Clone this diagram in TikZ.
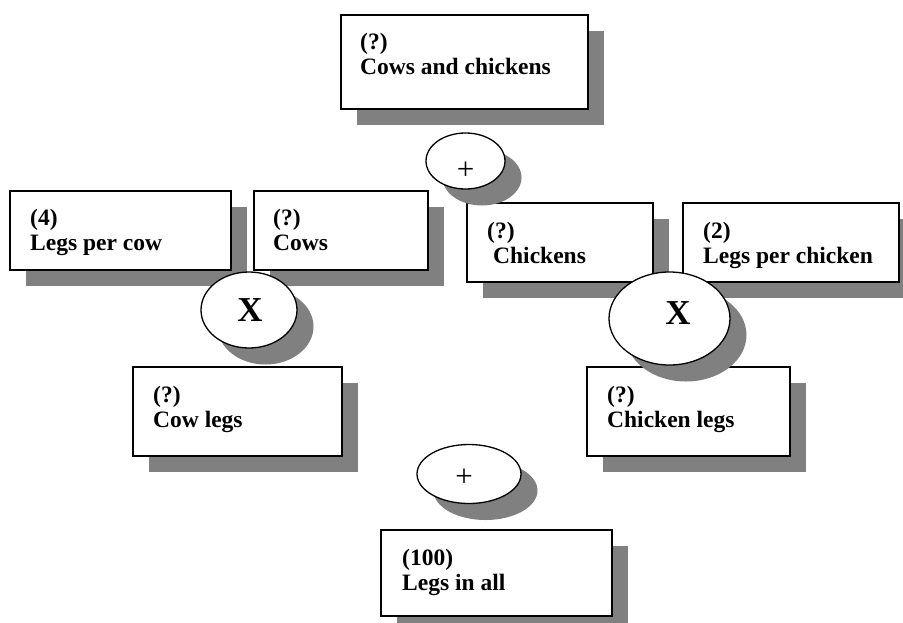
\documentclass[tikz,border=0pt]{standalone}
\usepackage{fontspec}
\setmainfont{Liberation Serif}
\usetikzlibrary{shapes.geometric,shadows}
\definecolor{shgray}{HTML}{808080}
\begin{document}
\begin{tikzpicture}[x=1pt,y=-1pt,
  myshadow/.style={drop shadow={shadow xshift=16.5pt, shadow yshift=-16.5pt, fill=shgray, opacity=1}},
  box/.style={draw=black, line width=1.8pt, fill=white, rectangle, inner sep=0pt, anchor=north west, myshadow},
  op/.style={draw=black, line width=1.3pt, fill=white, ellipse, inner sep=0pt, myshadow},
  txt/.style={anchor=base west, inner sep=0pt, align=left, font=\fontsize{23.5}{25}\selectfont\bfseries},
  optxt/.style={inner sep=0pt, font=\fontsize{35}{35}\selectfont\bfseries},
  plustxt/.style={inner sep=0pt, font=\fontsize{31}{31}\selectfont},
]
\useasboundingbox (0,0) rectangle (903,622);

% boxes
\node[box, minimum width=247pt, minimum height=94pt] (total) at (340,14) {};
\node[box, minimum width=221pt, minimum height=79pt] (lpc) at (9,190) {};
\node[box, minimum width=174pt, minimum height=79pt] (cows) at (253,190) {};
\node[box, minimum width=186pt, minimum height=79pt] (chick) at (466,202) {};
\node[box, minimum width=216pt, minimum height=79pt] (lpch) at (682,202) {};
\node[box, minimum width=209pt, minimum height=89pt] (cowlegs) at (132,366) {};
\node[box, minimum width=203pt, minimum height=89pt] (chlegs) at (586,366) {};
\node[box, minimum width=231pt, minimum height=86pt] (all) at (380,529) {};

% box texts (anchor at baseline of the second line)
\node[txt] (totalt) at ([shift={(20pt,-60.5pt)}]total.north west) {(?)\\Cows and chickens};
\node[txt] (lpct) at ([shift={(21pt,-60pt)}]lpc.north west) {(4)\\Legs per cow};
\node[txt] (cowst) at ([shift={(20pt,-60pt)}]cows.north west) {(?)\\Cows};
\node[txt] (chickt) at ([shift={(21pt,-61pt)}]chick.north west) {(?)\\\hspace*{6pt}Chickens};
\node[txt] (lpcht) at ([shift={(21pt,-61pt)}]lpch.north west) {(2)\\Legs per chicken};
\node[txt] (cowlegst) at ([shift={(21pt,-61pt)}]cowlegs.north west) {(?)\\Cow legs};
\node[txt] (chlegst) at ([shift={(21pt,-61pt)}]chlegs.north west) {(?)\\Chicken legs};
\node[txt] (allt) at ([shift={(22pt,-61pt)}]all.north west) {(100)\\Legs in all};

% operators
\node[op, minimum width=79pt, minimum height=56pt] (add1) at (465.5,161) {};
\node[op, minimum width=96pt, minimum height=76pt] (mul1) at (249,310) {};
\node[op, minimum width=121pt, minimum height=93pt] (mul2) at (669.5,318.5) {};
\node[op, minimum width=104pt, minimum height=59pt] (add2) at (469,474) {};

\node[plustxt] (add1t) at ([yshift=-10pt]add1.center) {+};
\node[optxt] (mul1t) at ([shift={(1pt,0pt)}]mul1.center) {X};
\node[optxt] (mul2t) at ([shift={(8.5pt,5.5pt)}]mul2.center) {X};
\node[plustxt] (add2t) at ([shift={(-5pt,-3.5pt)}]add2.center) {+};
\end{tikzpicture}
\end{document}
